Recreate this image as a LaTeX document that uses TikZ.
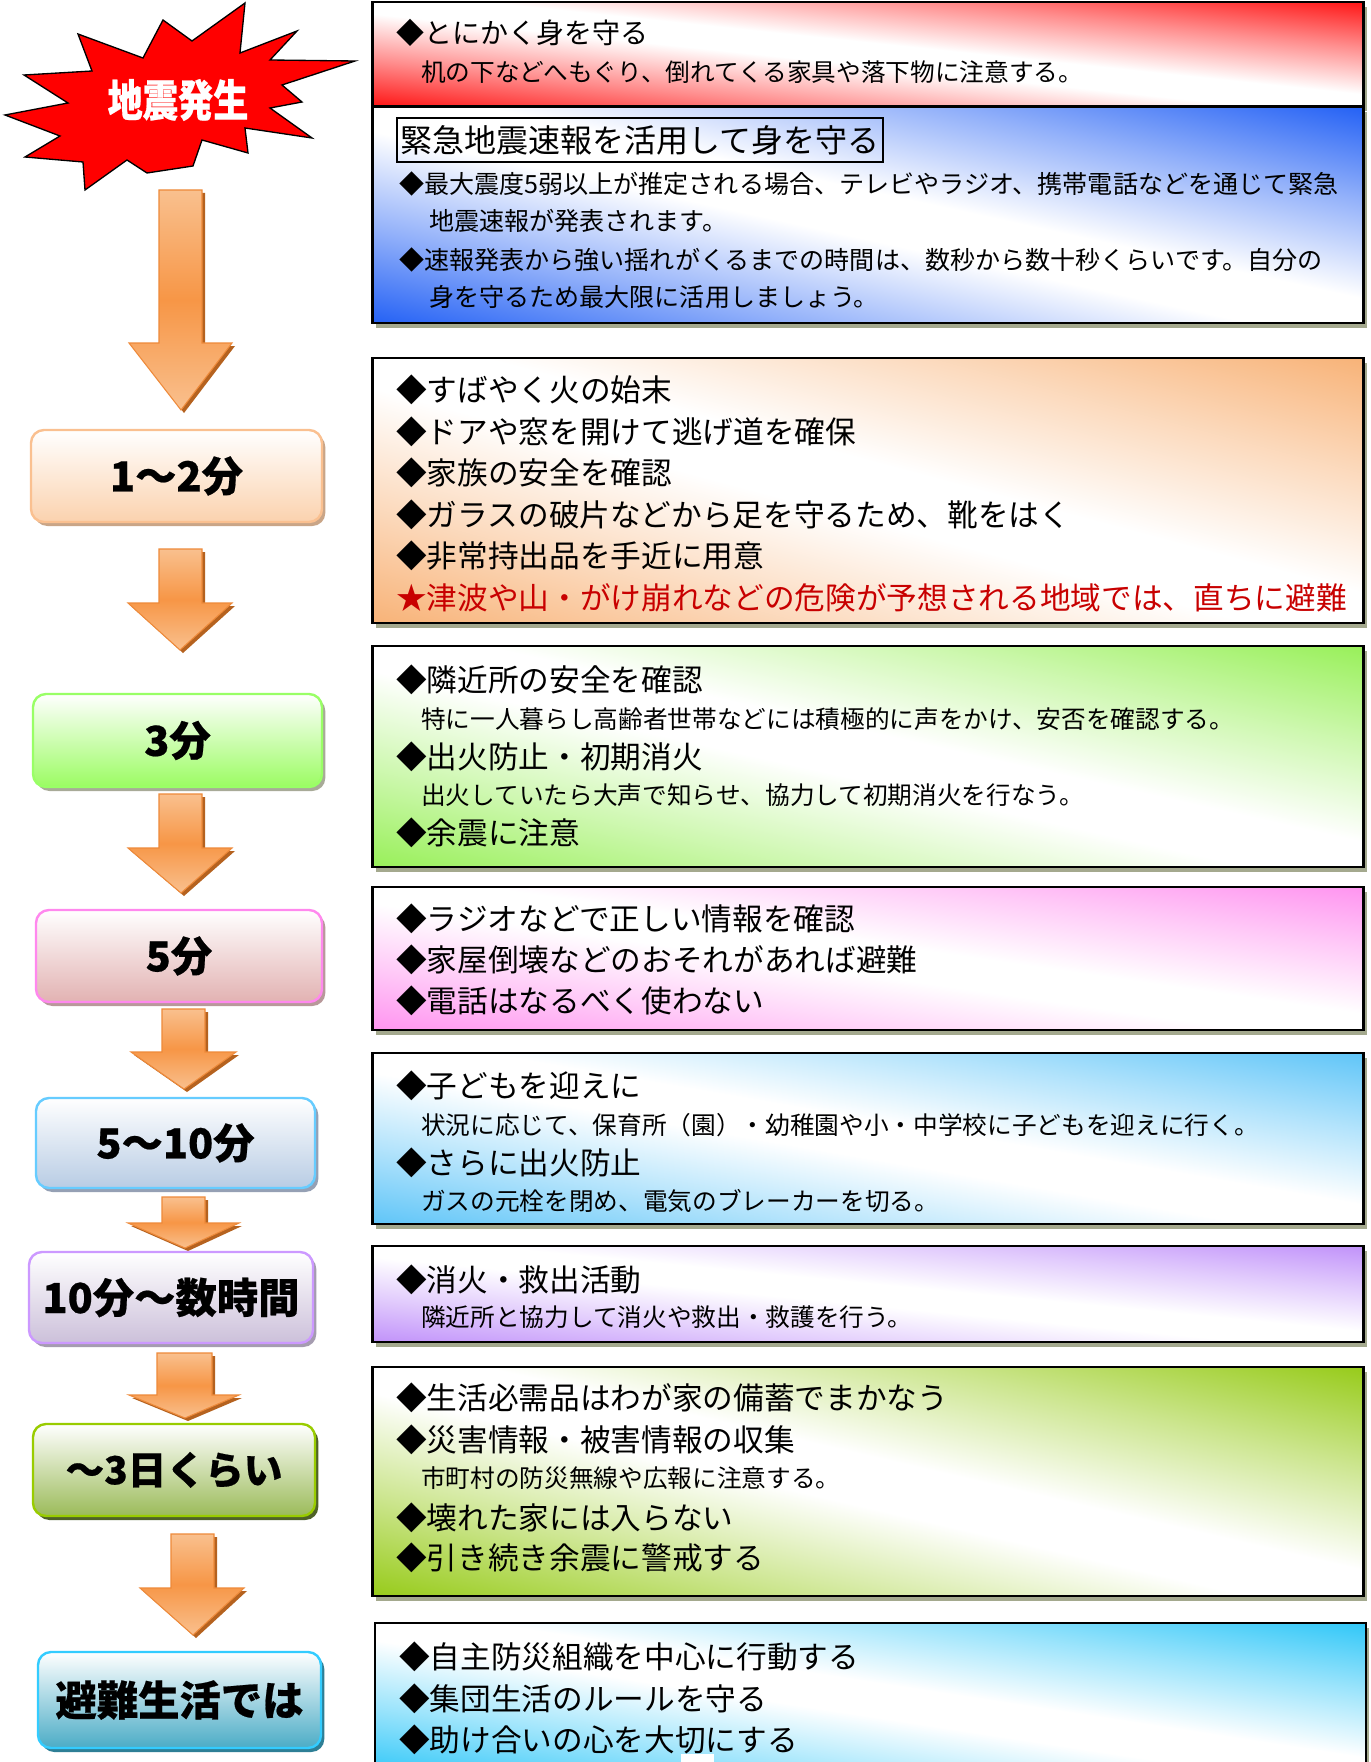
\documentclass[tikz,border=0pt]{standalone}
\usepackage{fontspec}
\usepackage{graphicx}
\newfontfamily\jp{Noto Sans CJK JP}
\newfontfamily\jph[FakeBold=0.5]{Noto Sans CJK JP}
\usetikzlibrary{shadows}
\newdimen\upx \upx=0.75pt
\definecolor{cA}{HTML}{FF1A1A}
\definecolor{cB}{HTML}{2864F5}
\definecolor{cC}{HTML}{F8B47A}
\definecolor{cD}{HTML}{9AF05C}
\definecolor{cE}{HTML}{FF96F0}
\definecolor{cF}{HTML}{62C6F8}
\definecolor{cG}{HTML}{C294FA}
\definecolor{cH}{HTML}{99CC1E}
\definecolor{cI}{HTML}{34C8F8}
\definecolor{boxshadow}{HTML}{A4A98E}
\definecolor{arrlight}{HTML}{F9C08E}
\definecolor{arrmid}{HTML}{F79646}
\definecolor{arredge}{HTML}{EE8A3A}
\definecolor{arrshadow}{HTML}{B5621F}
\definecolor{redtext}{HTML}{C80000}
% left boxes: border, bottom fill, shadow
\definecolor{lAd}{HTML}{FAC090}\definecolor{lAf}{HTML}{FBD2AE}\definecolor{lAs}{HTML}{C9A587}
\definecolor{lBd}{HTML}{99FF66}\definecolor{lBf}{HTML}{9BFC62}\definecolor{lBs}{HTML}{A8AA98}
\definecolor{lCd}{HTML}{FF88EE}\definecolor{lCf}{HTML}{E2B2B2}\definecolor{lCs}{HTML}{B8989A}
\definecolor{lDd}{HTML}{66CCFF}\definecolor{lDf}{HTML}{B8CCE4}\definecolor{lDs}{HTML}{95A0B4}
\definecolor{lEd}{HTML}{CC99FF}\definecolor{lEf}{HTML}{CCC0DA}\definecolor{lEs}{HTML}{A59CB0}
\definecolor{lFd}{HTML}{99CC00}\definecolor{lFf}{HTML}{9BBB59}\definecolor{lFs}{HTML}{4F6228}
\definecolor{lGd}{HTML}{33CCFF}\definecolor{lGf}{HTML}{4BACC6}\definecolor{lGs}{HTML}{2E7F96}
\newcommand\mkdiag[2]{\pgfdeclarehorizontalshading{#1}{100bp}{color(0bp)=(#2); color(15bp)=(#2); color(30bp)=(#2!50!white); color(46bp)=(white); color(54bp)=(white); color(70bp)=(#2!50!white); color(85bp)=(#2); color(100bp)=(#2)}}
\mkdiag{shA}{cA}
\mkdiag{shB}{cB}
\mkdiag{shC}{cC}
\mkdiag{shD}{cD}
\mkdiag{shE}{cE}
\mkdiag{shF}{cF}
\mkdiag{shG}{cG}
\mkdiag{shH}{cH}
\mkdiag{shI}{cI}
% name, centre x, centre y, width, height, shading
\newcommand\gradbox[6]{%
  \fill[boxshadow] ({#2-#4/2+3},{#3-#5/2+5}) rectangle ({#2+#4/2+3},{#3+#5/2+5});
  \begin{scope}[transform canvas={shift={(#2,#3)}, xscale={#4*0.0075}, yscale={#5*0.0075}}]
    \shade[shading=#6, shading angle=45] (-50pt,-50pt) rectangle (50pt,50pt);
  \end{scope}
  \node[rboxline, minimum width=#4\upx, minimum height=#5\upx] (#1) at (#2,#3) {};
}
% name, shaftL, shaftR, top, base, headL, headR, tipx, tipy
\newcommand\blockarrow[9]{%
  \fill[arrshadow, shift={(3,3)}] (#2,#4) -- (#3,#4) -- (#3,#5) -- (#7,#5) -- (#8,#9) -- (#6,#5) -- (#2,#5) -- cycle;
  \path[draw=arredge, line width=0.8pt, top color=arrlight, bottom color=arrlight, middle color=arrmid]
    (#2,#4) -- (#3,#4) -- (#3,#5) -- (#7,#5) -- (#8,#9) -- (#6,#5) -- (#2,#5) -- cycle;
  \coordinate (#1) at (#8,#9);
}
\tikzset{
  rboxline/.style={draw=black, line width=1.8pt, inner sep=0pt},
  lbox/.style={draw=l#1d, top color=white, bottom color=l#1f, line width=1.8pt, rounded corners=9.75pt, inner sep=0pt,
    drop shadow={shadow xshift=2.5pt, shadow yshift=-3pt, fill=l#1s, opacity=1},
    font=\jph\bfseries\fontsize{31}{31}\selectfont},
  tmain/.style={anchor=west, inner sep=0pt, font=\jp\fontsize{23}{23}\selectfont},
  tsub/.style={anchor=west, inner sep=0pt, font=\jp\fontsize{18.5}{18.5}\selectfont},
  tsubb/.style={anchor=west, inner sep=0pt, font=\jp\fontsize{18.8}{18.8}\selectfont},
}
\begin{document}
\begin{tikzpicture}[x=0.75pt,y=-0.75pt]
\useasboundingbox (0,0) rectangle (1370,1762);
\fill[white] (0,0) rectangle (1370,1762);
\begin{scope}
\clip (0,0) rectangle (1370,1762);

% ---------- right boxes ----------
\gradbox{bA}{868}{54}{991}{104}{shA}
\gradbox{bB}{868}{215}{991}{216}{shB}
\gradbox{bC}{868}{490.5}{991}{265}{shC}
\gradbox{bD}{868}{756.5}{991}{221}{shD}
\gradbox{bE}{868}{958.5}{991}{143}{shE}
\gradbox{bF}{868}{1138.5}{991}{171}{shF}
\gradbox{bG}{868}{1294}{991}{96}{shG}
\gradbox{bH}{868}{1481.5}{991}{229}{shH}
\gradbox{bI}{870.5}{1699}{991}{152}{shI}
\fill[white] (681,1754) rectangle (714,1762);

% box A
\node[anchor=west, inner sep=0pt, font=\jp\fontsize{21}{21}\selectfont] (a1) at (396,33) {◆とにかく身を守る};
\node[tsub] (a2) at (421,72) {机の下などへもぐり、倒れてくる家具や落下物に注意する。};
% box B
\node[draw=black, line width=1.1pt, inner sep=0pt, minimum width=486\upx, minimum height=44\upx,
  font=\jp\fontsize{24}{24}\selectfont] (b0) at (640,140) {緊急地震速報を活用して身を守る};
\node[tsubb] (b1) at (399,184) {◆最大震度5弱以上が推定される場合、テレビやラジオ、携帯電話などを通じて緊急};
\node[tsubb] (b2) at (429,221) {地震速報が発表されます。};
\node[tsubb] (b3) at (399,260) {◆速報発表から強い揺れがくるまでの時間は、数秒から数十秒くらいです。自分の};
\node[tsubb] (b4) at (429,297) {身を守るため最大限に活用しましょう。};
% box C
\node[tmain] (c1) at (396,390) {◆すばやく火の始末};
\node[tmain] (c2) at (396,432) {◆ドアや窓を開けて逃げ道を確保};
\node[tmain] (c3) at (396,473) {◆家族の安全を確認};
\node[tmain] (c4) at (396,515) {◆ガラスの破片などから足を守るため、靴をはく};
\node[tmain] (c5) at (396,556) {◆非常持出品を手近に用意};
\node[tmain, text=redtext] (c6) at (396,598) {★津波や山・がけ崩れなどの危険が予想される地域では、直ちに避難};
% box D
\node[tmain] (d1) at (396,680) {◆隣近所の安全を確認};
\node[tsub] (d2) at (421,719) {特に一人暮らし高齢者世帯などには積極的に声をかけ、安否を確認する。};
\node[tmain] (d3) at (396,757) {◆出火防止・初期消火};
\node[tsub] (d4) at (421,795) {出火していたら大声で知らせ、協力して初期消火を行なう。};
\node[tmain] (d5) at (396,833) {◆余震に注意};
% box E
\node[tmain] (e1) at (396,919) {◆ラジオなどで正しい情報を確認};
\node[tmain] (e2) at (396,960) {◆家屋倒壊などのおそれがあれば避難};
\node[tmain] (e3) at (396,1001) {◆電話はなるべく使わない};
% box F
\node[tmain] (f1) at (396,1086) {◆子どもを迎えに};
\node[tsub] (f2) at (421,1125) {状況に応じて、保育所（園）・幼稚園や小・中学校に子どもを迎えに行く。};
\node[tmain] (f3) at (396,1163) {◆さらに出火防止};
\node[tsub] (f4) at (421,1201) {ガスの元栓を閉め、電気のブレーカーを切る。};
% box G
\node[tmain] (g1) at (396,1280) {◆消火・救出活動};
\node[tsub] (g2) at (421,1317) {隣近所と協力して消火や救出・救護を行う。};
% box H
\node[tmain] (h1) at (396,1398) {◆生活必需品はわが家の備蓄でまかなう};
\node[tmain] (h2) at (396,1440) {◆災害情報・被害情報の収集};
\node[tsub] (h3) at (421,1478) {市町村の防災無線や広報に注意する。};
\node[tmain] (h4) at (396,1518) {◆壊れた家には入らない};
\node[tmain] (h5) at (396,1558) {◆引き続き余震に警戒する};
% box I
\node[tmain] (i1) at (399,1657) {◆自主防災組織を中心に行動する};
\node[tmain] (i2) at (399,1699) {◆集団生活のルールを守る};
\node[tmain] (i3) at (399,1740) {◆助け合いの心を大切にする};

% ---------- explosion ----------
\filldraw[fill=red, draw=black, line width=1pt, line join=miter]
 (245,3) -- (240,53) -- (297,31) -- (270,60) -- (355,61) -- (282,85) -- (302,102) -- (270,108)
 -- (312,138) -- (245,128) -- (248,153) -- (202,140) -- (193,166) -- (147,173) -- (127,160)
 -- (85,190) -- (83,162) -- (25,157) -- (60,136) -- (5,115) -- (68,103) -- (24,75) -- (92,71)
 -- (78,34) -- (143,58) -- (163,20) -- (192,41) -- cycle;
\node[inner sep=0pt, text=white, font=\jph\bfseries\fontsize{33}{33}\selectfont] (quake) at (178,100)
  {\scalebox{0.8}[1]{地震発生}};

% ---------- arrows ----------
\blockarrow{ar1}{159}{202}{190}{343}{129}{232}{181}{410}
\blockarrow{ar2}{159}{202}{549}{603}{128}{232}{180}{650}
\blockarrow{ar3}{159}{202}{794}{848}{128}{232}{181}{893}
\blockarrow{ar4}{162}{205}{1009}{1052}{131}{236}{184}{1089}
\blockarrow{ar5}{162}{205}{1197}{1223}{128}{239}{185}{1248}
\blockarrow{ar6}{157}{212}{1353}{1395}{129}{239}{185}{1418}
\blockarrow{ar7}{171}{214}{1534}{1588}{140}{244}{193}{1635}

% ---------- left boxes ----------
\node[lbox=A, minimum width=291\upx, minimum height=92\upx] (t1) at (176.5,476) {1～2分};
\node[lbox=B, minimum width=289\upx, minimum height=93\upx] (t2) at (177.5,740.5) {3分};
\node[lbox=C, minimum width=286\upx, minimum height=92\upx] (t3) at (179,956) {5分};
\node[lbox=D, minimum width=279\upx, minimum height=90\upx] (t4) at (175.5,1143) {5～10分};
\node[lbox=E, minimum width=284\upx, minimum height=91\upx] (t5) at (171,1297.5) {10分～数時間};
\node[lbox=F, minimum width=282\upx, minimum height=92\upx, font=\jph\bfseries\fontsize{29}{29}\selectfont] (t6) at (174,1470) {～3日くらい};
\node[lbox=G, minimum width=283\upx, minimum height=96\upx] (t7) at (179.5,1700) {避難生活では};
\end{scope}
\end{tikzpicture}
\end{document}
